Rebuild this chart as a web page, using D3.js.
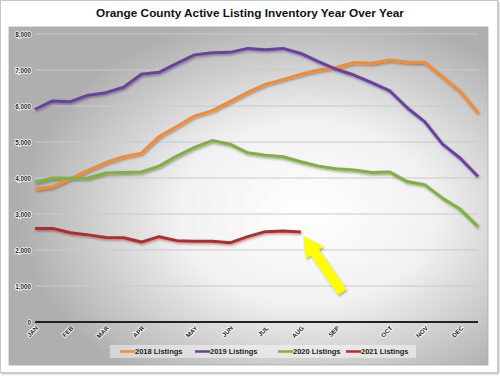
<!DOCTYPE html>
<html>
<head>
<meta charset="utf-8">
<script src="https://cdn.jsdelivr.net/npm/d3@7"></script>
<style>
  html, body { margin: 0; padding: 0; background: #fff; }
  svg { display: block; font-family: "Liberation Sans", Arial, sans-serif; }
</style>
</head>
<body>
<svg id="chart" width="500" height="377"></svg>
<script>
// Orange County active listings, ~2 readings per month (26 points)
const monthTicks = [
  { i: 0, label: "JAN" }, { i: 2, label: "FEB" }, { i: 4, label: "MAR" },
  { i: 6, label: "APR" }, { i: 9, label: "MAY" }, { i: 11, label: "JUN" },
  { i: 13, label: "JUL" }, { i: 15, label: "AUG" }, { i: 17, label: "SEP" },
  { i: 20, label: "OCT" }, { i: 22, label: "NOV" }, { i: 24, label: "DEC" }
];

const listings2018 = [3690, 3760, 3980, 4220, 4430, 4590, 4690, 5150, 5430, 5720, 5870, 6120, 6380,
  6600, 6740, 6880, 7000, 7070, 7210, 7190, 7280, 7220, 7210, 6810, 6400, 5810];
const listings2019 = [5910, 6140, 6120, 6300, 6370, 6520, 6880, 6935, 7185, 7420, 7480, 7490, 7600,
  7560, 7600, 7460, 7230, 7020, 6860, 6650, 6430, 5950, 5560, 4940, 4550, 4040];
const listings2020 = [3880, 4000, 3990, 4000, 4140, 4150, 4170, 4330, 4610, 4850, 5040, 4940, 4700,
  4630, 4590, 4450, 4330, 4260, 4220, 4150, 4170, 3900, 3810, 3440, 3130, 2650];
const listings2021 = [2600, 2600, 2480, 2420, 2350, 2340, 2220, 2370, 2260, 2240, 2240, 2200, 2370,
  2510, 2530, 2500];

const yTicks = [0, 1000, 2000, 3000, 4000, 5000, 6000, 7000, 8000];

const series = [
  { name: "2018 Listings", values: listings2018, color: "#f58a2f" },
  { name: "2019 Listings", values: listings2019, color: "#6b3fa0" },
  { name: "2020 Listings", values: listings2020, color: "#80b03c" },
  { name: "2021 Listings", values: listings2021, color: "#b52b2b" }
];

const svg = d3.select("#chart");
const defs = svg.append("defs");

// background gradient (grey edges, white glare)
const grad = defs.append("radialGradient")
  .attr("id", "bg")
  .attr("cx", "62%").attr("cy", "55%").attr("r", "60%");
grad.append("stop").attr("offset", "0%").attr("stop-color", "#ffffff");
grad.append("stop").attr("offset", "45%").attr("stop-color", "#f1f1f1");
grad.append("stop").attr("offset", "100%").attr("stop-color", "#afafaf");

const shadow = defs.append("filter").attr("id", "shadow")
  .attr("x", "-10%").attr("y", "-10%").attr("width", "130%").attr("height", "130%");
shadow.append("feDropShadow").attr("dx", 1).attr("dy", 1.5)
  .attr("stdDeviation", 0.8).attr("flood-color", "#000").attr("flood-opacity", 0.35);

const frameShadow = defs.append("filter").attr("id", "frameShadow");
frameShadow.append("feDropShadow").attr("dx", 1).attr("dy", 1)
  .attr("stdDeviation", 1).attr("flood-color", "#000").attr("flood-opacity", 0.3);

// outer white frame
svg.append("rect")
  .attr("x", 0.5).attr("y", 0.5).attr("width", 497).attr("height", 372)
  .attr("fill", "#fff").attr("stroke", "#c8c8c8")
  .attr("filter", "url(#frameShadow)");

// title
svg.append("text")
  .attr("x", 250).attr("y", 16.5)
  .attr("text-anchor", "middle")
  .style("font-size", "11.8px").style("font-weight", "bold")
  .attr("fill", "#111")
  .text("Orange County Active Listing Inventory Year Over Year");

// chart area
svg.append("rect")
  .attr("x", 9).attr("y", 27).attr("width", 479).attr("height", 338)
  .attr("fill", "url(#bg)").attr("stroke", "#aaa").attr("stroke-width", 0.8);

const margin = { left: 35, right: 478, top: 34, bottom: 322 };

const x = d3.scaleLinear()
  .domain([0, 25])
  .range([margin.left, margin.right]);

const y = d3.scaleLinear()
  .domain([0, 8000])
  .range([margin.bottom, margin.top]);

// gridlines
svg.append("g")
  .selectAll("line")
  .data(yTicks.filter(d => d > 0))
  .join("line")
  .attr("x1", margin.left).attr("x2", margin.right)
  .attr("y1", d => y(d)).attr("y2", d => y(d))
  .attr("stroke", "#c9c9c9").attr("stroke-width", 1.2);

// y axis labels
const yAxis = svg.append("g")
  .attr("transform", `translate(${margin.left - 4},0)`)
  .call(d3.axisLeft(y).tickValues(yTicks).tickSize(0).tickFormat(d3.format(",")));
yAxis.select(".domain").remove();
yAxis.selectAll("text")
  .attr("x", 0).attr("dy", "0.32em")
  .style("font-size", "6.3px").style("font-weight", "bold")
  .attr("fill", "#222")
  .attr("stroke", "#fff").attr("stroke-width", 1.6)
  .attr("paint-order", "stroke");

// zero baseline
svg.append("line")
  .attr("x1", margin.left).attr("x2", margin.right)
  .attr("y1", y(0)).attr("y2", y(0))
  .attr("stroke", "#222").attr("stroke-width", 2);

// month labels, rotated
svg.append("g")
  .selectAll("text")
  .data(monthTicks)
  .join("text")
  .attr("transform", d => `translate(${x(d.i) + 2},${y(0) + 5}) rotate(-45)`)
  .attr("text-anchor", "end")
  .attr("dy", "0.35em")
  .style("font-size", "6.3px").style("font-weight", "bold")
  .attr("fill", "#222")
  .attr("stroke", "#fff").attr("stroke-width", 1.6)
  .attr("paint-order", "stroke")
  .text(d => d.label);

// series lines
const line = d3.line()
  .x((d, i) => x(i))
  .y(d => y(d));

svg.append("g")
  .attr("filter", "url(#shadow)")
  .selectAll("path")
  .data(series)
  .join("path")
  .attr("d", d => line(d.values))
  .attr("fill", "none")
  .attr("stroke", d => d.color)
  .attr("stroke-width", 3)
  .attr("stroke-linejoin", "round");

// yellow arrow pointing at the latest 2021 reading
const lastIdx = listings2021.length - 1;
const tip = [x(lastIdx) + 2.5, y(listings2021[lastIdx]) + 4];
const tail = [tip[0] + 39, tip[1] + 56];
const ang = Math.atan2(tail[1] - tip[1], tail[0] - tip[0]);
const len = Math.hypot(tail[0] - tip[0], tail[1] - tip[1]);
const headLen = 20, headHalf = 11, bodyHalf = 5;
const ux = Math.cos(ang), uy = Math.sin(ang);
const px = -uy, py = ux;
const pt = (a, b) => [tip[0] + ux * a + px * b, tip[1] + uy * a + py * b];
const arrowPts = [
  pt(0, 0),
  pt(headLen, headHalf),
  pt(headLen, bodyHalf),
  pt(len, bodyHalf),
  pt(len, -bodyHalf),
  pt(headLen, -bodyHalf),
  pt(headLen, -headHalf)
];
svg.append("polygon")
  .attr("points", arrowPts.map(p => p.join(",")).join(" "))
  .attr("fill", "#ffff00")
  .attr("filter", "url(#shadow)");

// legend
const legend = svg.append("g");
legend.append("rect")
  .attr("x", 110).attr("y", 345).attr("width", 306).attr("height", 13)
  .attr("fill", "#fff").attr("opacity", 0.45);

const legendX = [120, 195, 278, 346];
const items = legend.selectAll("g")
  .data(series)
  .join("g")
  .attr("transform", (d, i) => `translate(${legendX[i]},351.5)`);
items.append("line")
  .attr("x1", 0).attr("x2", 15)
  .attr("stroke", d => d.color).attr("stroke-width", 2.5);
items.append("text")
  .attr("x", 15).attr("dy", "0.35em")
  .style("font-size", "7.5px").style("font-weight", "bold")
  .attr("fill", "#222")
  .text(d => d.name);
</script>
</body>
</html>
